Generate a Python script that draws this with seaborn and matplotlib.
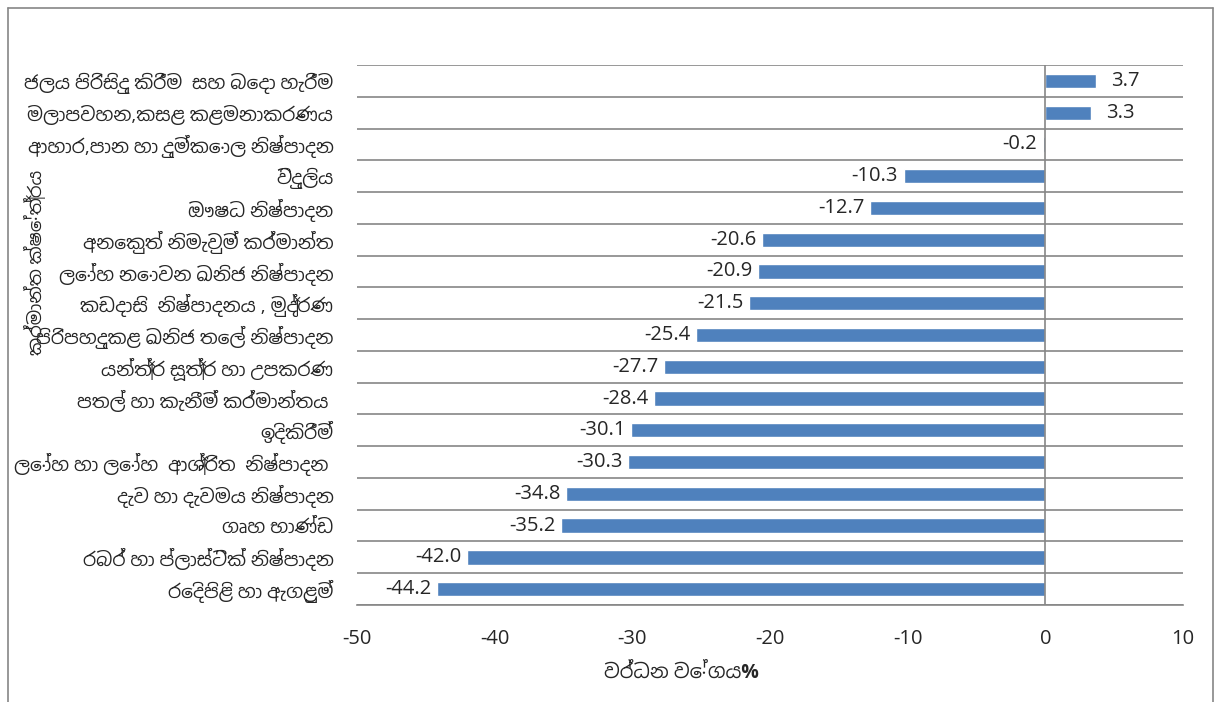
import matplotlib
matplotlib.use("Agg")
import matplotlib.pyplot as plt
import pandas as pd
import seaborn as sns

categories = [
    "ජලය පිරිසිදු කිරීම  සහ බෙදා හැරීම",
    "මලාපවහන,කසළ කළමනාකරණය",
    "ආහාර,පාන හා දුම්කොල නිෂ්පාදන",
    "විදුලිය",
    "ඖෂධ නිෂ්පාදන",
    "අනෙකුත් නිමැවුම් කර්මාන්ත",
    "ලෝහ නොවන ඛනිජ නිෂ්පාදන",
    "කඩදාසි  නිෂ්පාදනය , මුද්‍රණ",
    "පිරිපහදුකළ ඛනිජ තෙල් නිෂ්පාදන",
    "යන්ත්‍ර සූත්‍ර හා උපකරණ",
    "පතල් හා කැනීම් කර්මාන්තය ",
    "ඉදිකිරීම්",
    "ලෝහ හා ලෝහ  ආශ්‍රිත  නිෂ්පාදන ",
    "දැව හා දැවමය නිෂ්පාදන",
    "ගෘහ භාණ්ඩ",
    "රබර් හා ප්ලාස්ටික් නිෂ්පාදන",
    "රෙදිපිළි හා ඇගළුම්",
]
growth = [3.7, 3.3, -0.2, -10.3, -12.7, -20.6, -20.9, -21.5, -25.4,
          -27.7, -28.4, -30.1, -30.3, -34.8, -35.2, -42.0, -44.2]
x_ticks = [-50, -40, -30, -20, -10, 0, 10]

df = pd.DataFrame({"sector": categories, "growth": growth})

sns.set_style("white")
plt.rcParams["font.family"] = ["Open Sans", "Noto Sans Sinhala", "DejaVu Sans"]
plt.rcParams["axes.unicode_minus"] = False
grey = "#868686"

fig = plt.figure(figsize=(12.23, 7.02), dpi=100)
ax = fig.add_axes([357 / 1223, 1 - 605 / 702, 826 / 1223, 540 / 702])

sns.barplot(data=df, x="growth", y="sector", color="#4F81BD", width=0.45,
            orient="h", ax=ax, saturation=1)

ax.set_xlim(-50, 10)
ax.set_ylim(len(categories) - 0.5, -0.5)
ax.set_xticks(x_ticks)
ax.tick_params(axis="x", labelsize=14.5, length=6, width=1.2, direction="out", color=grey, pad=11)
ax.tick_params(axis="y", labelsize=13.5, length=0, pad=17)
for y in range(len(categories) + 1):
    ax.axhline(y - 0.5, color=grey, lw=1.2, zorder=0)
ax.axvline(0, color=grey, lw=1.2)
for s in ["top", "right", "left"]:
    ax.spines[s].set_visible(False)
ax.spines["bottom"].set_color(grey)
ax.spines["bottom"].set_linewidth(1.2)

# value labels
for i, v in enumerate(growth):
    if v < 0:
        ax.text(v - 0.4, i, f"{v:.1f}", ha="right", va="center", fontsize=14.5)
    else:
        ax.text(v + 1.1, i, f"{v:.1f}", ha="left", va="center", fontsize=14.5)

ax.set_xlabel("")
ax.set_ylabel("")
fig.text(681 / 1223, 1 - 673 / 702, "වර්ධන වේගය%", ha="center", va="center",
         fontsize=14, fontweight="bold")
fig.text(35 / 1223, 1 - 262 / 702, "කර්මාන්ත ක්ෂේත්‍රය", rotation=90, ha="center",
         va="center", fontsize=13, fontweight="bold")

# chart border
fig.add_artist(plt.Line2D([8 / 1223, 8 / 1223], [0, 1 - 8 / 702], color=grey, lw=1.2))
fig.add_artist(plt.Line2D([1213 / 1223, 1213 / 1223], [0, 1 - 8 / 702], color=grey, lw=1.2))
fig.add_artist(plt.Line2D([8 / 1223, 1213 / 1223], [1 - 8 / 702, 1 - 8 / 702], color=grey, lw=1.2))

fig.savefig("out.png", dpi=100)
